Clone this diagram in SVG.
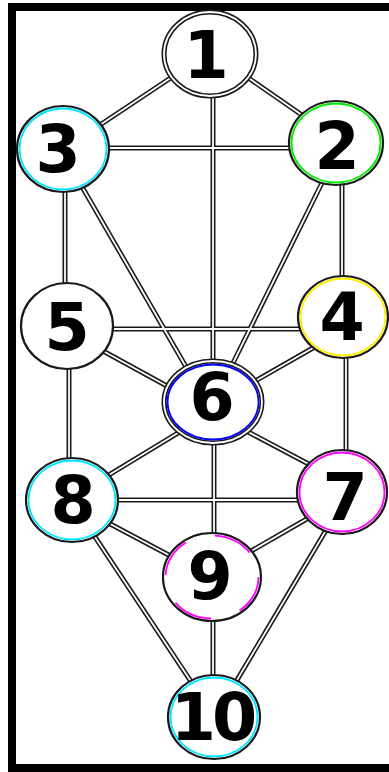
<svg xmlns="http://www.w3.org/2000/svg" width="389" height="772" viewBox="0 0 389 772">
<style>
.lo{stroke:#1a1a1a;stroke-width:5;fill:none;stroke-linecap:butt}
.li{stroke:#ffffff;stroke-width:1.8;fill:none}
.ring{fill:#ffffff;stroke:#1a1a1a;stroke-width:2.2}
.dbl{fill:#ffffff;stroke:#1a1a1a;stroke-width:5}
.dbi{fill:none;stroke:#ffffff;stroke-width:1.8}
.c{fill:none;stroke-width:1.8}
.t{font-family:"DejaVu Sans",sans-serif;font-weight:bold;font-size:65px;fill:#000;text-anchor:middle}
</style>
<rect x="0" y="0" width="389" height="772" fill="#ffffff"/>
<rect x="12" y="7" width="400" height="761" fill="none" stroke="#000" stroke-width="8"/>
<defs>
<g id="paths">
<line x1="180.3" y1="71.5" x2="94.7" y2="128.5"/>
<line x1="238.8" y1="71.3" x2="310.2" y2="120.7"/>
<line x1="100" y1="148" x2="300" y2="148"/>
<line x1="213" y1="90" x2="213" y2="370"/>
<line x1="65" y1="185" x2="65" y2="290"/>
<line x1="80" y1="183.3" x2="190" y2="373.7"/>
<line x1="326.4" y1="174" x2="228.6" y2="372"/>
<line x1="342" y1="178" x2="342" y2="282"/>
<line x1="105" y1="329" x2="305" y2="329"/>
<line x1="96.2" y1="347.2" x2="173.8" y2="389.8"/>
<line x1="321.7" y1="343" x2="248.3" y2="385"/>
<line x1="69" y1="362" x2="69" y2="466"/>
<line x1="346" y1="350" x2="346" y2="460"/>
<line x1="186.5" y1="427.8" x2="103.5" y2="478.2"/>
<line x1="241.2" y1="428.3" x2="313.8" y2="466.7"/>
<line x1="214" y1="435" x2="214" y2="540"/>
<line x1="110" y1="500" x2="305" y2="500"/>
<line x1="103.2" y1="520.3" x2="175.8" y2="558.7"/>
<line x1="313.7" y1="515" x2="244.3" y2="555"/>
<line x1="89.5" y1="528.7" x2="195.5" y2="688.3"/>
<line x1="330.1" y1="523.4" x2="231.9" y2="688.6"/>
<line x1="213" y1="615" x2="213" y2="682"/>
</g>
</defs>
<g id="connectors">
<use href="#paths" class="lo"/>
<use href="#paths" class="li"/>
</g>
<g id="node1">
<ellipse class="dbl" cx="210" cy="54" rx="46" ry="42"/>
<ellipse class="dbi" cx="210" cy="54" rx="46" ry="42"/>
<text class="t" x="206" y="78">1</text>
</g>
<g id="node2">
<ellipse class="ring" cx="336" cy="143" rx="47" ry="42"/>
<ellipse class="c" stroke="#00ee00" cx="336" cy="143" rx="44.5" ry="39.5"/>
<text class="t" x="337" y="169">2</text>
</g>
<g id="node3">
<ellipse class="ring" cx="63" cy="149" rx="46" ry="43"/>
<ellipse class="c" stroke="#00e5ff" cx="63" cy="149" rx="43.5" ry="40.5"/>
<text class="t" x="58" y="172">3</text>
</g>
<g id="node4">
<ellipse class="ring" cx="343" cy="317" rx="45" ry="41"/>
<ellipse class="c" stroke="#ffee00" cx="343" cy="317" rx="42.5" ry="38.5"/>
<text class="t" x="342" y="340">4</text>
</g>
<g id="node5">
<ellipse class="ring" cx="67" cy="326" rx="46" ry="43"/>
<text class="t" x="67" y="350">5</text>
</g>
<g id="node6">
<ellipse class="dbl" cx="213" cy="402" rx="49" ry="41"/>
<ellipse class="dbi" cx="213" cy="402" rx="49" ry="41"/>
<ellipse class="c" stroke="#0000ff" cx="213" cy="402" rx="45.5" ry="37.5"/>
<text class="t" x="212" y="420">6</text>
</g>
<g id="node7">
<ellipse class="ring" cx="342" cy="492" rx="45" ry="42"/>
<ellipse class="c" stroke="#ff00ff" cx="342" cy="492" rx="42.5" ry="39.5"/>
<text class="t" x="345" y="520">7</text>
</g>
<g id="node8">
<ellipse class="ring" cx="72" cy="500" rx="46" ry="42"/>
<ellipse class="c" stroke="#00e5ff" cx="72" cy="500" rx="43.5" ry="39.5"/>
<text class="t" x="73" y="523">8</text>
</g>
<g id="node9">
<ellipse class="ring" cx="212" cy="577" rx="49" ry="44"/>
<ellipse class="c" stroke="#ff00ff" stroke-dasharray="40 30" cx="212" cy="577" rx="46.5" ry="41.5"/>
<text class="t" x="210" y="599">9</text>
</g>
<g id="node10">
<ellipse class="ring" cx="214" cy="717" rx="46" ry="42"/>
<ellipse class="c" stroke="#00e5ff" cx="214" cy="717" rx="43.5" ry="39.5"/>
<text class="t" x="212" y="740" letter-spacing="-4" font-size="60">10</text>
</g>
</svg>
